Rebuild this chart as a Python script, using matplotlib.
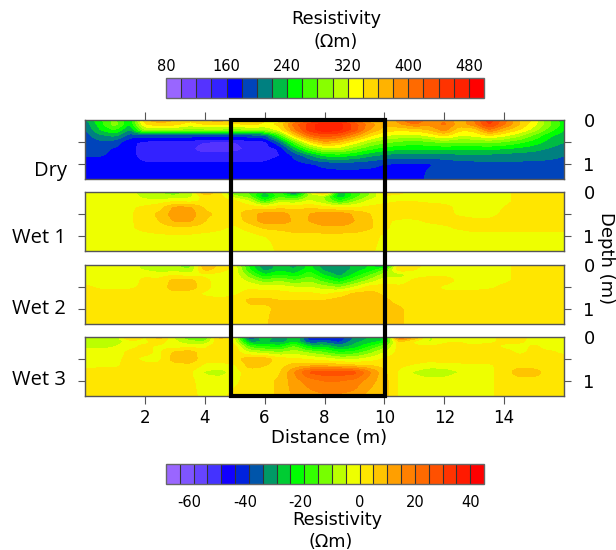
import numpy as np
import matplotlib
matplotlib.use("Agg")
import matplotlib.pyplot as plt
from matplotlib.cm import ScalarMappable
from matplotlib.colors import BoundaryNorm, ListedColormap
from matplotlib.patches import Rectangle
from matplotlib.transforms import ScaledTranslation

plt.rcParams["axes.unicode_minus"] = False

W, H = 616, 550

DISTANCE = [i * 0.5 for i in range(33)]
DEPTH = [0, 0.1, 0.22, 0.35, 0.5, 0.65, 0.8, 1.0, 1.34]

DRY = [
    [215,255,285,245,355,375,360,345,360,370,345,370,340,325,370,410,430,430,400,360,350,390,430,380,400,360,400,450,410,360,335,280,245],
    [205,250,290,235,340,350,345,330,340,345,335,345,335,345,410,450,475,470,430,390,365,375,395,385,405,370,390,445,400,360,325,285,250],
    [198,240,262,215,300,305,300,290,295,295,290,300,300,330,395,450,475,465,430,380,350,345,350,360,390,345,345,400,365,340,310,270,240],
    [190,215,225,190,190,190,190,190,190,190,190,190,195,265,350,410,430,420,385,345,320,315,310,325,345,320,325,340,325,305,275,245,228],
    [186,195,190,165,155,152,150,150,140,135,140,150,152,200,275,340,375,360,330,300,285,275,270,275,285,280,280,285,278,265,250,232,220],
    [185,185,178,165,150,150,148,145,125,125,130,148,150,162,225,275,310,310,285,265,250,245,243,245,245,245,245,245,240,235,228,218,210],
    [182,182,175,165,152,152,150,148,148,148,150,152,152,158,185,215,245,250,240,225,215,212,212,212,212,215,215,215,212,210,208,205,200],
    [165,165,165,165,162,162,162,162,162,162,162,162,162,170,172,178,185,188,188,186,180,178,178,178,186,190,192,195,195,195,195,195,195],
    [165,165,165,165,165,165,165,165,165,165,165,165,165,165,165,165,165,165,165,165,165,168,170,185,190,190,190,190,190,190,190,190,190],
]

WET1 = [
    [-2,-2,-2,-3,-9,-10,-13,-8,10,2,-18,-15,-26,-15,-45,-5,12,-30,-18,-12,3,1,-2,-1,-3,-1,-3,-1,-1,1,2,2,2],
    [-2,-2,-2,-2,-7,-9,-9,-7,3,2,-8,-14,-30,-17,-22,-9,-10,-30,-18,-9,-1,-1,-1,-2,-1,-2,-2,-2,-1,1,2,2,2],
    [-2,-2,-2,-2,-3,-2,0,-1,1,3,2,-4,-18,-6,-8,-3,-9,-18,-10,-3,-1,0,0,-1,-1,-1,-2,-2,-1,1,2,2,2],
    [-2,-2,-2,-1,1,3,11,11,4,4,3,3,1,3,3,4,2,-1,0,1,2,3,3,3,1,-1,-2,-2,0,2,2,2,2],
    [-2,-2,-2,-1,3,6,13,13,6,4,3,8,12,13,8,10,13,13,9,5,2,3,3,3,2,-1,-2,-2,1,2,2,2,2],
    [-2,-2,-2,-1,3,5,11,11,5,3,2,7,13,13,9,10,13,14,10,6,1,-1,-1,1,2,2,1,1,2,2,2,2,2],
    [-2,-2,-2,-1,2,3,4,4,3,1,-1,2,6,7,8,8,9,9,8,6,1,-2,-2,-2,-1,1,2,2,2,2,2,2,2],
    [-2,-2,-2,-2,-2,-1,-1,-1,-2,-2,-2,-2,0,1,3,3,3,3,3,2,-1,-2,-2,-3,-3,-3,-2,-2,-2,-2,-2,-2,-2],
    [-2,-2,-2,-2,-2,-2,-2,-2,-2,-2,-2,-2,-2,1,2,2,2,2,2,1,-2,-2,-2,-3,-3,-3,-2,-2,-2,-2,-2,-2,-2],
]

WET2 = [
    [-2,-2,-3,-3,-7,-11,-10,-13,10,4,-2,-22,-35,-28,-32,-24,-35,-35,-28,-25,-34,6,1,-1,-2,-1,-2,-1,-1,1,2,2,2],
    [-2,-2,-2,-2,-6,-9,-8,-10,7,2,-2,-20,-33,-27,-30,-22,-32,-35,-28,-24,-16,4,0,-1,-1,-1,-1,-1,-1,1,2,2,2],
    [-2,-2,-2,-2,-1,-2,-1,-3,-1,-2,-2,-14,-25,-20,-24,-17,-26,-32,-24,-16,-8,-8,-2,-1,-1,-1,-1,-1,-1,1,2,2,2],
    [-2,-2,-2,-2,1,1,7,7,1,-2,-1,-7,-14,-11,-15,-11,-18,-24,-16,-9,-2,-3,1,2,2,-1,-2,-2,-1,1,2,2,2],
    [1,-1,-1,-1,1,2,8,8,2,-3,-3,-1,-3,-3,-5,-5,-8,-11,-5,2,2,1,2,2,-1,-2,-2,-1,1,2,2,2,2],
    [2,2,2,2,2,2,3,2,-1,-3,-1,2,3,2,1,1,-1,2,6,7,4,2,2,2,1,2,2,2,2,2,2,2,2],
    [2,2,2,2,2,2,2,2,2,2,2,6,6,5,5,5,5,7,8,8,6,3,2,2,2,2,2,2,2,2,2,2,2],
    [2,2,2,2,2,2,2,2,2,2,2,4,4,6,7,7,7,8,8,8,7,6,2,2,2,2,2,2,2,2,2,2,2],
    [2,2,2,2,2,2,2,2,2,2,2,3,4,8,8,8,8,8,8,8,7,6,2,2,2,2,2,2,2,2,2,2,2],
]

WET3 = [
    [-9,-9,-9,7,-1,8,-6,-16,-18,8,-5,-45,-22,-38,-22,-45,-45,-45,-35,-30,-28,22,10,-6,-1,-1,-6,-1,1,2,-2,-3,-3],
    [-9,-9,-9,-2,-1,2,-4,-9,-10,5,-3,-33,-30,-34,-26,-40,-38,-42,-32,-28,-24,6,-1,-6,-1,0,-2,-1,1,1,-2,-3,-3],
    [-7,-7,-5,-1,1,-1,-2,-2,-1,4,3,-17,-20,-22,-14,-26,-26,-32,-28,-20,-12,3,1,1,2,1,1,2,-1,-2,1,-2,-2],
    [-2,-2,-2,1,1,-1,6,8,1,2,3,-5,-8,-10,-7,-11,-15,-20,-18,-12,-5,2,2,2,3,3,2,2,2,-1,1,1,-1],
    [-1,-1,-1,1,-1,-1,8,9,1,2,3,8,8,2,1,-1,-3,-6,-6,-3,1,3,3,2,3,3,2,2,2,2,2,2,2],
    [-1,-1,-1,2,1,1,2,3,-1,-2,-1,7,5,3,7,9,9,8,6,5,3,1,-1,-3,-3,-2,-1,-1,2,3,2,2,2],
    [1,2,2,2,2,2,2,1,-6,-8,-2,2,3,4,15,26,28,28,27,16,6,-1,-6,-9,-8,-5,-1,-1,2,8,8,2,2],
    [2,2,2,2,2,2,2,1,-2,-2,-1,2,3,6,13,17,20,20,18,12,7,-1,-2,-3,-3,-1,-1,-1,2,2,2,2,2],
    [2,2,2,2,2,2,2,1,-1,-1,1,2,3,6,11,13,14,14,13,8,7,-1,-1,-1,-1,-1,-1,-1,2,2,2,2,2],
]

PANEL_NAMES = ["Dry", "Wet 1", "Wet 2", "Wet 3"]
PANEL_BOXES = [(120, 179), (192, 251), (265, 324), (337, 396)]
NAME_X = [51, 39, 39, 39]
NAME_Y = [171, 238, 309, 380]

RES_LEVELS = list(range(80, 520, 20))
RES_COLORS = ["#9966ff", "#7744ff", "#5533ff", "#3322ff", "#0000ff", "#0044bb", "#008080",
              "#00bb44", "#00ff00", "#44ff00", "#88ff00", "#bbff00", "#ffff00", "#ffd700",
              "#ffb300", "#ff8c00", "#ff6a00", "#ff5000", "#ff3300", "#ff2200", "#ff0000"]
RES_TICKS = [80, 160, 240, 320, 400, 480]

DIFF_LEVELS = list(range(-70, 50, 5))
DIFF_COLORS = ["#9a66ff", "#7f55ff", "#6644ff", "#4433ff", "#1100ff", "#0022dd", "#0055aa",
               "#009966", "#00cc33", "#00ff00", "#33ff00", "#77ff00", "#bbff00", "#eeff00",
               "#ffe600", "#ffc400", "#ff9f00", "#ff8000", "#ff6a00", "#ff5000", "#ff3300",
               "#ff1a00", "#ff0000"]
DIFF_TICKS = [-60, -40, -20, 0, 20, 40]

EDGE = "#555555"


def px_axes(fig, left, top, right, bottom):
    return fig.add_axes([left / W, 1 - bottom / H, (right - left) / W, (bottom - top) / H])


def smooth(z):
    # resample the read values on a fine grid and blur a little so contours look round
    z = np.array(z, dtype=float)
    xf = np.linspace(0, 16, 321)
    df = np.linspace(0, 1.34, 135)
    a = np.array([np.interp(xf, DISTANCE, row) for row in z])
    b = np.array([np.interp(df, DEPTH, a[:, j]) for j in range(a.shape[1])]).T
    kx = np.ones(5) / 5
    kd = np.ones(5) / 5
    b = np.apply_along_axis(lambda r: np.convolve(np.pad(r, 2, mode="edge"), kx, mode="valid"), 1, b)
    b = np.apply_along_axis(lambda c: np.convolve(np.pad(c, 2, mode="edge"), kd, mode="valid"), 0, b)
    return xf, df, b


def draw_panel(ax, z, levels, colors):
    xf, df, b = smooth(z)
    ax.contourf(xf, df, b, levels=levels, colors=colors, extend="neither")
    ax.set_xlim(0, 16)
    ax.set_ylim(1.34, 0)
    ax.set_yticks([0, 0.5, 1])
    ax.set_yticklabels(["0", "", "1"])
    ax.yaxis.tick_right()
    ax.tick_params(axis="y", which="major", left=True, right=True, length=5, width=0.8,
                   color=EDGE, labelsize=13, pad=9)
    first = ax.yaxis.get_major_ticks()[0]
    first.tick1line.set_visible(False)
    first.tick2line.set_visible(False)
    ax.set_xticks([2, 4, 6, 8, 10, 12, 14])
    ax.tick_params(axis="x", length=6, width=0.8, color=EDGE)
    for s in ax.spines.values():
        s.set_color(EDGE)
        s.set_linewidth(1.0)


def draw_bar(fig, box, levels, colors, ticks, labels_on_top):
    cax = px_axes(fig, *box)
    sm = ScalarMappable(norm=BoundaryNorm(levels, len(colors)), cmap=ListedColormap(colors))
    cb = fig.colorbar(sm, cax=cax, orientation="horizontal", drawedges=True, ticks=ticks, spacing="proportional")
    cb.minorticks_off()
    cb.dividers.set_color("#333333")
    cb.dividers.set_linewidth(0.8)
    cb.outline.set_edgecolor("#666666")
    cb.outline.set_linewidth(1.0)
    cax.tick_params(length=0, labelsize=10.5, pad=3, color=EDGE)
    if labels_on_top:
        cax.xaxis.set_ticks_position("top")
    else:
        cax.tick_params(pad=8)
        # negative labels sit a bit left of their cell in the original
        shift = ScaledTranslation(-4 / 100, 0, fig.dpi_scale_trans)
        for tick, lbl in zip(ticks, cax.get_xticklabels()):
            if tick < 0:
                lbl.set_transform(lbl.get_transform() + shift)
    return cb


def main():
    fig = plt.figure(figsize=(W / 100, H / 100), dpi=100)

    data = [DRY, WET1, WET2, WET3]
    axes = []
    for i, (top, bottom) in enumerate(PANEL_BOXES):
        ax = px_axes(fig, 85, top, 564, bottom)
        if i == 0:
            draw_panel(ax, data[i], RES_LEVELS, RES_COLORS)
        else:
            draw_panel(ax, data[i], DIFF_LEVELS, DIFF_COLORS)
        ax.set_xticklabels([])
        axes.append(ax)
        fig.text(NAME_X[i] / W, 1 - NAME_Y[i] / H, PANEL_NAMES[i], ha="center", va="center",
                 fontsize=14.5, family="Open Sans")

    axes[0].xaxis.tick_top()
    axes[0].set_xticklabels([])
    for ax in axes[1:3]:
        ax.tick_params(axis="x", length=0)
    axes[3].set_xticklabels(["2", "4", "6", "8", "10", "12", "14"], fontsize=12)

    fig.text(329 / W, 1 - 438 / H, "Distance (m)", ha="center", va="center", fontsize=13)
    fig.text(606 / W, 1 - 258 / H, "Depth (m)", ha="center", va="center", rotation=270, fontsize=13)

    draw_bar(fig, (166, 78, 484, 98), RES_LEVELS, RES_COLORS, RES_TICKS, True)
    draw_bar(fig, (166, 464, 484, 484), DIFF_LEVELS, DIFF_COLORS, DIFF_TICKS, False)

    for x, y, txt in [(336, 19, "Resistivity"), (336, 42, "(Ωm)"), (337, 520, "Resistivity"), (331, 542, "(Ωm)")]:
        fig.text(x / W, 1 - y / H, txt, ha="center", va="center", fontsize=12.7)

    fig.patches.append(Rectangle((231 / W, 1 - 396 / H), (385 - 231) / W, (396 - 120) / H,
                                 transform=fig.transFigure, fill=False, edgecolor="black",
                                 linewidth=3, zorder=10, figure=fig))

    fig.savefig("out.png", dpi=100)
    plt.close(fig)


if __name__ == "__main__":
    main()
